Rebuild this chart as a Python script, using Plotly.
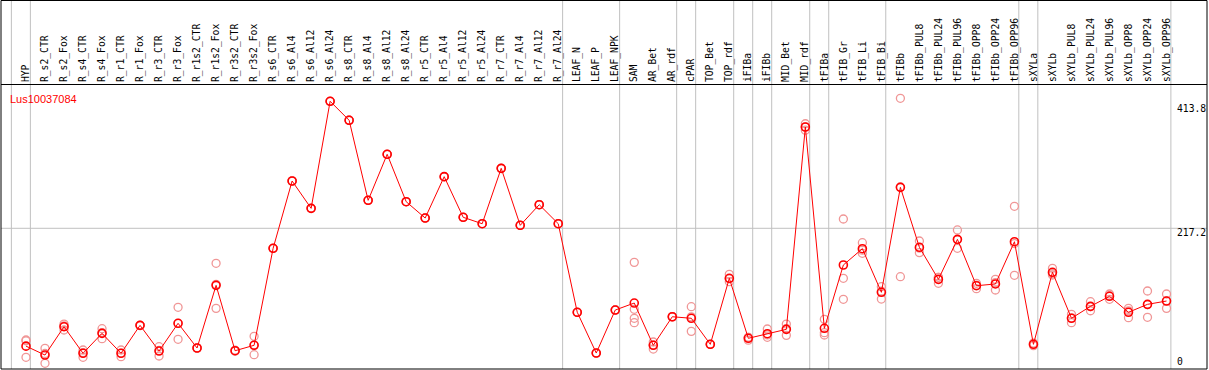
import plotly.graph_objects as go

categories = ["HYP", "R_s2_CTR", "R_s2_Fox", "R_s4_CTR", "R_s4_Fox", "R_r1_CTR", "R_r1_Fox",
              "R_r3_CTR", "R_r3_Fox", "R_r1s2_CTR", "R_r1s2_Fox", "R_r3s2_CTR", "R_r3s2_Fox",
              "R_s6_CTR", "R_s6_Al4", "R_s6_Al12", "R_s6_Al24",
              "R_s8_CTR", "R_s8_Al4", "R_s8_Al12", "R_s8_Al24",
              "R_r5_CTR", "R_r5_Al4", "R_r5_Al12", "R_r5_Al24",
              "R_r7_CTR", "R_r7_Al4", "R_r7_Al12", "R_r7_Al24",
              "LEAF_N", "LEAF_P", "LEAF_NPK",
              "SAM", "AR_Bet", "AR_rdf", "cPAR", "TOP_Bet", "TOP_rdf", "iFIBa", "iFIBb",
              "MID_Bet", "MID_rdf", "tFIBa", "tFIB_Gr", "tFIB_Li", "tFIB_Bi",
              "tFIBb", "tFIBb_PUL8", "tFIBb_PUL24", "tFIBb_PUL96", "tFIBb_OPP8", "tFIBb_OPP24", "tFIBb_OPP96",
              "sXYLa", "sXYLb", "sXYLb_PUL8", "sXYLb_PUL24", "sXYLb_PUL96", "sXYLb_OPP8", "sXYLb_OPP24", "sXYLb_OPP96"]

mean_values = [34.8, 21.0, 64.9, 23.7, 54.6, 23.7, 67.0, 27.2, 70.1, 31.9, 128.9, 27.7, 36.1,
               186.2, 290.4, 248.1, 413.8,
               384.4, 260.5, 331.7, 258.4,
               233.1, 297.1, 234.2, 224.3,
               310.0, 221.8, 253.7, 224.3,
               87.2, 24.1, 90.7,
               101.5, 36.1, 80.3, 77.9, 37.6, 139.8, 46.9, 54.0, 60.8, 374.0,
               62.4, 160.4, 185.6, 118.1,
               280.6, 187.8, 138.2, 200.1, 128.3, 131.0, 196.4,
               37.6, 149.1, 77.9, 96.4, 111.9, 87.2, 99.5, 104.6]

replicate_values = [
    [44.3, 43.0, 17.5], [31.4, 23.4, 8.2], [69.0, 66.0, 59.8], [28.8, 24.8, 17.5],
    [61.8, 55.7, 46.3], [28.8, 23.8, 18.5], [67.0, 67.0, 67.0], [33.9, 28.0, 19.5],
    [94.9, 70.0, 45.4], [32.0, 32.0, 31.7], [163.0, 130.4, 93.3], [28.4, 27.7, 27.0],
    [50.0, 36.8, 21.5],
    [186.2, 186.2, 186.2], [290.4, 290.4, 290.4], [248.1, 248.1, 248.1], [413.8, 413.8, 413.8],
    [384.4, 384.4, 384.4], [260.5, 260.5, 260.5], [331.7, 331.7, 331.7], [258.4, 258.4, 258.4],
    [233.1, 233.1, 233.1], [297.1, 297.1, 297.1], [234.2, 234.2, 234.2], [224.3, 224.3, 224.3],
    [310.0, 310.0, 310.0], [221.8, 221.8, 221.8], [253.7, 253.7, 253.7], [224.3, 224.3, 224.3],
    [87.2, 87.2, 87.2], [24.1, 24.1, 24.1], [90.7, 90.7, 90.7],
    [164.5, 91.8, 77.9, 71.1], [41.2, 36.8, 30.3], [80.3, 80.3, 80.3], [95.8, 80.2, 57.7],
    [37.6, 37.6, 37.6], [146.0, 139.0, 134.5], [48.5, 48.2, 44.0], [61.3, 52.2, 48.5],
    [69.0, 62.0, 51.5], [379.0, 374.0, 369.0],
    [76.3, 55.6, 52.0], [231.6, 139.8, 107.3], [194.9, 183.4, 178.5], [126.8, 119.8, 107.7],
    [418.4, 281.1, 142.3], [197.5, 186.5, 179.4], [141.3, 141.3, 132.0], [214.6, 199.5, 186.2],
    [132.0, 129.2, 123.7], [138.2, 133.1, 121.7], [251.2, 193.6, 144.4],
    [39.6, 37.6, 35.6], [155.3, 147.1, 144.9], [84.0, 78.6, 71.1], [103.6, 96.0, 89.6],
    [115.5, 112.9, 107.3], [93.3, 89.5, 78.8], [120.1, 99.0, 79.4], [115.5, 105.0, 93.3],
]

# index of the last category in each group (-1 = before the first)
group_end_index = [-1, 0, 28, 31, 34, 35, 37, 38, 39, 41, 42, 45, 52, 53, 60]

y_tick_values = [413.8, 217.2, 0]
y_tick_labels = ["413.8", "217.2", "0"]
gene_name = "Lus10037084"

x_idx = list(range(len(categories)))
rep_x = [i for i, reps in enumerate(replicate_values) for _ in reps]
rep_y = [v for reps in replicate_values for v in reps]

fig = go.Figure()
fig.add_trace(go.Scatter(
    x=rep_x, y=rep_y, mode="markers",
    marker=dict(symbol="circle-open", size=8, color="rgb(240,150,150)", line=dict(width=1.3)),
    hoverinfo="skip"))
fig.add_trace(go.Scatter(
    x=x_idx, y=mean_values, mode="lines+markers",
    line=dict(color="#ff0000", width=1),
    marker=dict(symbol="circle-open", size=8, color="#ff0000", line=dict(width=1.6))))

top_paper = 1 + 84.5 / 284
shapes = []
for k in group_end_index:
    shapes.append(dict(type="line", xref="x", yref="paper", x0=k + 0.23, x1=k + 0.23,
                       y0=0, y1=top_paper, line=dict(color="#c0c0c0", width=1), layer="below"))
shapes.append(dict(type="line", xref="paper", yref="y", x0=0, x1=1,
                   y0=y_tick_values[1], y1=y_tick_values[1],
                   line=dict(color="#c0c0c0", width=1), layer="below"))
shapes.append(dict(type="rect", xref="paper", yref="paper", x0=0, x1=1, y0=0, y1=top_paper,
                   line=dict(color="black", width=1)))

annotations = [dict(xref="paper", yref="paper", x=7 / 1206, y=1 - 6 / 284, xanchor="left", yanchor="top",
                    text=gene_name, showarrow=False,
                    font=dict(family="Liberation Sans", size=11, color="#ff0000"))]
y_shifts = [0, 3, 0]
y_anchors = ["top", "top", "bottom"]
for v, t, s, a in zip(y_tick_values, y_tick_labels, y_shifts, y_anchors):
    annotations.append(dict(xref="paper", yref="y", x=1174 / 1206, y=v, xanchor="left", yanchor=a,
                            yshift=s, text=t, showarrow=False,
                            font=dict(family="DejaVu Sans Mono", size=9.7, color="black")))

fig.update_layout(
    width=1209, height=370,
    margin=dict(l=1, r=2, t=85, b=1, pad=0),
    paper_bgcolor="white", plot_bgcolor="white",
    showlegend=False,
    shapes=shapes, annotations=annotations,
    xaxis=dict(range=[-1.315, 62.13], side="top", tickmode="array", tickvals=x_idx,
               ticktext=categories, tickangle=-90, ticks="",
               tickfont=dict(family="DejaVu Sans Mono", size=9.7, color="black"),
               showgrid=False, zeroline=False, showline=True, linecolor="black", linewidth=1,
               automargin=False, fixedrange=True),
    yaxis=dict(range=[-0.6, 439.0], showticklabels=False, showgrid=False, zeroline=False,
               showline=False, automargin=False, fixedrange=True),
)

fig.write_html("out.html", config={"displayModeBar": False},
               post_script="document.body.style.margin='0';document.body.style.overflow='hidden';")
